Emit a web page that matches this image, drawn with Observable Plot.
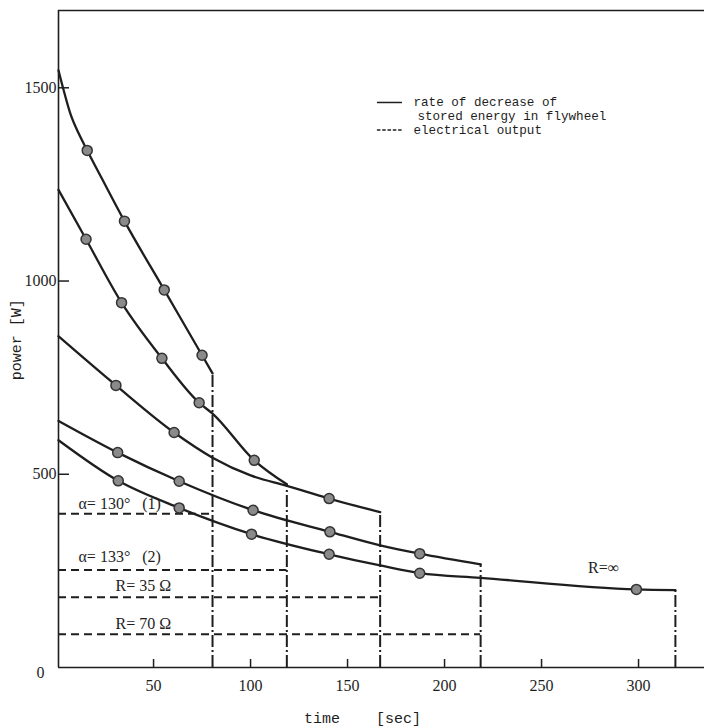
<!DOCTYPE html>
<html>
<head>
<meta charset="utf-8">
<script src="https://cdn.jsdelivr.net/npm/d3@7"></script>
<script src="https://cdn.jsdelivr.net/npm/@observablehq/plot@0.6"></script>
<style>
  html, body { margin: 0; padding: 0; background: #fff; }
  #chart svg { display: block; }
</style>
</head>
<body>
<div id="chart"></div>
<script>
// ---- data ----
const seriesNames = ["α=130° (1)", "α=133° (2)", "R=35 Ω", "R=70 Ω", "R=∞"];

// rate of decrease of stored energy (solid curves), time [sec] / power [W]
const curveTime = [
  [1, 3.7, 7.2, 11.5, 15.8, 23.5, 35, 55.5, 75, 80.4],
  [1, 15.2, 33.5, 54.3, 73.5, 80.4, 101.9, 118.7],
  [1, 30.6, 60.6, 80.4, 100, 118.7, 140.5, 166.8],
  [1, 31.5, 63.2, 101.3, 140.9, 166.8, 187.2, 218.6],
  [1, 31.8, 63.2, 100.5, 140.5, 166.8, 187.2, 218.6, 298.9, 319]
];
const curvePower = [
  [1545, 1493, 1432, 1381, 1338, 1264, 1155, 977, 808, 761],
  [1236, 1108, 944, 800, 685, 657, 536, 474],
  [857, 730, 608, 543, 497, 470, 437, 402],
  [638, 556, 482, 407, 351, 316, 294.5, 267],
  [588, 483, 413, 345, 293, 264, 244, 232, 202, 200]
];

// measured points (circles)
const markerTime = [
  [15.8, 35, 55.5, 75],
  [15.2, 33.5, 54.3, 73.5, 101.9],
  [30.6, 60.6, 140.5],
  [31.5, 63.2, 101.3, 140.9, 187.2],
  [31.8, 63.2, 100.5, 140.5, 187.2, 298.9]
];
const markerPower = [
  [1338, 1155, 977, 808],
  [1108, 944, 800, 685, 536],
  [730, 608, 437],
  [556, 482, 407, 351, 294.5],
  [483, 413, 345, 293, 244, 202]
];

// end of run (dash-dot verticals)
const endTime = [80.4, 118.7, 166.8, 218.6, 319];
const endPower = [761, 474, 402, 267, 200];

// electrical output (dashed horizontals)
const outputPower = [398, 252, 182, 86];

const labelText = ["α= 130°\u00a0\u00a0\u00a0(1)", "α= 133°\u00a0\u00a0\u00a0(2)", "R= 35 Ω", "R= 70 Ω", "R=∞"];

const xTicks = [50, 100, 150, 200, 250, 300];
const yTicks = [500, 1000, 1500];
const xLabel = "time\u00a0\u00a0\u00a0\u00a0[sec]";
const yLabel = "power [W]";
const legendText = ["rate of decrease of", "stored energy in flywheel", "electrical output"];

// ---- tables ----
const curveRows = curveTime.flatMap((ts, s) => ts.map((t, i) => ({series: seriesNames[s], t, p: curvePower[s][i]})));
const markerRows = markerTime.flatMap((ts, s) => ts.map((t, i) => ({series: seriesNames[s], t, p: markerPower[s][i]})));
const endRows = endTime.map((t, i) => ({series: seriesNames[i], t, p: endPower[i]}));
const outRows = outputPower.map((p, i) => ({series: seriesNames[i], t: endTime[i], p}));

const W = 704, H = 727;
const mL = 58, mR = 0, mT = 10, mB = 60;
const innerW = W - mL - mR, innerH = H - mT - mB;
const ink = "#1e1e1e";
const mono = "Liberation Mono, DejaVu Sans Mono, monospace";
const serif = "Liberation Serif, DejaVu Serif, serif";

const labelX = [11.3, 11.3, 30.4, 30.4, 274];
const labelY = [424, 285, 212, 114, 259];

const chart = Plot.plot({
  width: W, height: H,
  marginLeft: mL, marginRight: mR, marginTop: mT, marginBottom: mB,
  x: {domain: [1, 334]},
  y: {domain: [0, 1700]},
  style: {fontFamily: serif, fontSize: "16px", color: ink, background: "#fff"},
  marks: [
    // frame: left, top, bottom
    Plot.ruleX([1], {stroke: ink, strokeWidth: 1.6}),
    Plot.ruleY([0, 1700], {stroke: ink, strokeWidth: 1.6}),
    // inward ticks
    Plot.tickX(xTicks, {x: d => d, insetTop: innerH - 8, stroke: ink, strokeWidth: 1.5}),
    Plot.tickY(yTicks, {y: d => d, insetRight: innerW - 11, stroke: ink, strokeWidth: 1.5}),
    Plot.axisX({ticks: xTicks, tickSize: 0, tickPadding: 12, label: null, tickFormat: d => String(d), fontFamily: serif, fontSize: 16, letterSpacing: -0.5}),
    Plot.axisY({ticks: yTicks, tickSize: 0, tickPadding: 2, label: null, tickFormat: d => String(d), fontFamily: serif, fontSize: 16, letterSpacing: -0.5}),
    Plot.axisY({ticks: [0], tickSize: 0, tickPadding: 14, dy: 5, label: null, tickFormat: d => String(d), fontFamily: serif, fontSize: 16}),
    // electrical output
    Plot.ruleY(outRows, {y: "p", x1: 1, x2: "t", stroke: ink, strokeWidth: 2, strokeDasharray: "8,5"}),
    // end-of-run dash-dot
    Plot.ruleX(endRows, {x: "t", y1: 0, y2: "p", stroke: ink, strokeWidth: 2, strokeDasharray: "12,3,2,3"}),
    // stored energy curves
    Plot.line(curveRows, {x: "t", y: "p", z: "series", curve: "monotone-x", stroke: ink, strokeWidth: 2.3}),
    Plot.dot(markerRows, {x: "t", y: "p", r: 5, fill: "#8a8a8a", stroke: "#333", strokeWidth: 1.5}),
    // curve labels
    Plot.text(labelText, {x: (d, i) => labelX[i], y: (d, i) => labelY[i], text: d => d, textAnchor: "start", fontFamily: serif, fontSize: 16, fill: ink}),
    // legend
    Plot.ruleY([1462], {x1: 165.4, x2: 178.3, y: d => d, stroke: ink, strokeWidth: 1.5}),
    Plot.ruleY([1391], {x1: 165.4, x2: 178.3, y: d => d, stroke: ink, strokeWidth: 1.5, strokeDasharray: "3.5,1.8"}),
    Plot.text(legendText, {x: (d, i) => [184, 186, 184][i], y: (d, i) => [1464, 1428, 1391][i], text: d => d, textAnchor: "start", fontFamily: mono, fontSize: 12.6, fill: ink}),
    // axis titles
    Plot.text([xLabel], {x: 157.7, frameAnchor: "bottom", dy: 55, text: d => d, fontFamily: mono, fontSize: 15, fill: ink}),
    Plot.text([yLabel], {x: -20.6, y: 848, textAnchor: "middle", rotate: -90, text: d => d, fontFamily: mono, fontSize: 15, fill: ink})
  ]
});
document.getElementById("chart").appendChild(chart);
</script>
</body>
</html>
